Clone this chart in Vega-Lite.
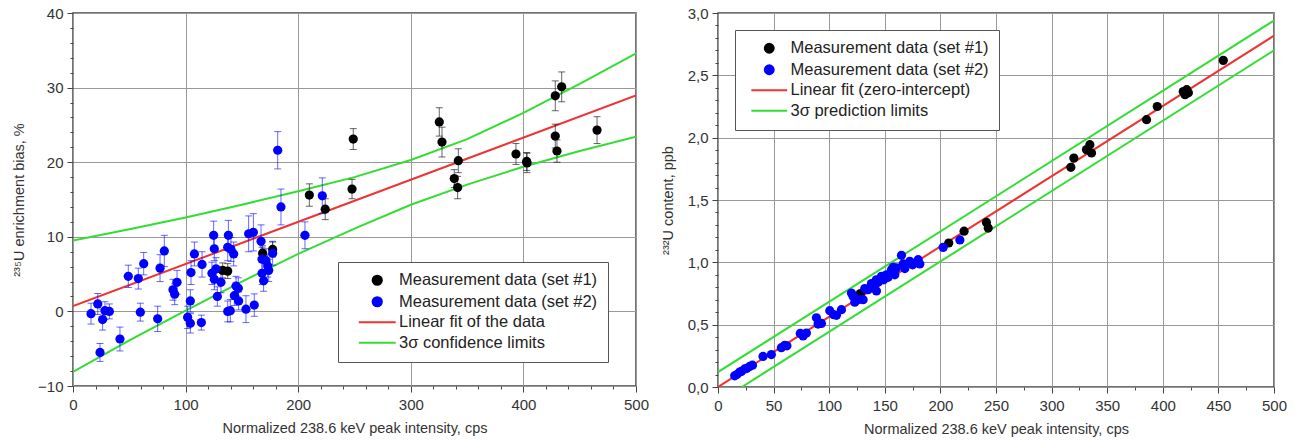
{
  "$schema": "https://vega.github.io/schema/vega-lite/v6.json",
  "padding": {"left": 10, "top": 5, "right": 5, "bottom": 5},
  "background": "white",
  "config": {
    "font": "Liberation Sans",
    "view": {"stroke": "#444", "strokeWidth": 1.5},
    "axis": {"domain": false, "labelFontSize": 15, "labelColor": "#333", "titleFontSize": 14.5, "titleFontWeight": "normal", "titleColor": "#333", "gridColor": "#999", "gridWidth": 1, "tickColor": "#444", "labelOverlap": false, "labelFlush": false}
  },
  "datasets": {
    "leftPts": [
      {"x": 132.9, "y": 5.5, "e": 1.0, "series": "Measurement data (set #1)"},
      {"x": 137.4, "y": 5.4, "e": 1.0, "series": "Measurement data (set #1)"},
      {"x": 168.4, "y": 7.8, "e": 1.0, "series": "Measurement data (set #1)"},
      {"x": 177.3, "y": 8.3, "e": 1.0, "series": "Measurement data (set #1)"},
      {"x": 209.9, "y": 15.6, "e": 1.5, "series": "Measurement data (set #1)"},
      {"x": 224.0, "y": 13.7, "e": 1.4, "series": "Measurement data (set #1)"},
      {"x": 247.8, "y": 16.4, "e": 1.3, "series": "Measurement data (set #1)"},
      {"x": 248.9, "y": 23.1, "e": 1.4, "series": "Measurement data (set #1)"},
      {"x": 325.3, "y": 25.4, "e": 1.9, "series": "Measurement data (set #1)"},
      {"x": 327.7, "y": 22.7, "e": 2.0, "series": "Measurement data (set #1)"},
      {"x": 342.2, "y": 20.2, "e": 1.6, "series": "Measurement data (set #1)"},
      {"x": 338.6, "y": 17.8, "e": 1.2, "series": "Measurement data (set #1)"},
      {"x": 341.6, "y": 16.6, "e": 1.5, "series": "Measurement data (set #1)"},
      {"x": 393.4, "y": 21.1, "e": 1.4, "series": "Measurement data (set #1)"},
      {"x": 402.9, "y": 20.1, "e": 1.2, "series": "Measurement data (set #1)"},
      {"x": 403.2, "y": 19.9, "e": 1.3, "series": "Measurement data (set #1)"},
      {"x": 428.3, "y": 28.9, "e": 2.0, "series": "Measurement data (set #1)"},
      {"x": 434.0, "y": 30.1, "e": 2.0, "series": "Measurement data (set #1)"},
      {"x": 428.3, "y": 23.5, "e": 1.6, "series": "Measurement data (set #1)"},
      {"x": 429.8, "y": 21.5, "e": 1.5, "series": "Measurement data (set #1)"},
      {"x": 465.4, "y": 24.3, "e": 1.8, "series": "Measurement data (set #1)"},
      {"x": 16.0, "y": -0.3, "e": 1.4, "series": "Measurement data (set #2)"},
      {"x": 22.0, "y": 1.0, "e": 1.4, "series": "Measurement data (set #2)"},
      {"x": 24.0, "y": -5.5, "e": 1.2, "series": "Measurement data (set #2)"},
      {"x": 26.3, "y": -1.1, "e": 1.4, "series": "Measurement data (set #2)"},
      {"x": 28.4, "y": 0.1, "e": 1.2, "series": "Measurement data (set #2)"},
      {"x": 32.3, "y": 0.0, "e": 1.0, "series": "Measurement data (set #2)"},
      {"x": 41.7, "y": -3.7, "e": 1.6, "series": "Measurement data (set #2)"},
      {"x": 49.1, "y": 4.7, "e": 1.5, "series": "Measurement data (set #2)"},
      {"x": 58.0, "y": 4.4, "e": 1.4, "series": "Measurement data (set #2)"},
      {"x": 59.8, "y": -0.1, "e": 1.2, "series": "Measurement data (set #2)"},
      {"x": 62.8, "y": 6.4, "e": 1.5, "series": "Measurement data (set #2)"},
      {"x": 75.2, "y": -1.0, "e": 1.7, "series": "Measurement data (set #2)"},
      {"x": 77.3, "y": 5.8, "e": 1.8, "series": "Measurement data (set #2)"},
      {"x": 81.1, "y": 8.1, "e": 2.1, "series": "Measurement data (set #2)"},
      {"x": 88.8, "y": 2.9, "e": 1.4, "series": "Measurement data (set #2)"},
      {"x": 90.3, "y": 2.3, "e": 1.4, "series": "Measurement data (set #2)"},
      {"x": 92.4, "y": 3.9, "e": 1.6, "series": "Measurement data (set #2)"},
      {"x": 101.8, "y": -0.8, "e": 1.5, "series": "Measurement data (set #2)"},
      {"x": 104.2, "y": -1.6, "e": 1.3, "series": "Measurement data (set #2)"},
      {"x": 104.2, "y": 1.4, "e": 1.5, "series": "Measurement data (set #2)"},
      {"x": 104.8, "y": 5.2, "e": 1.6, "series": "Measurement data (set #2)"},
      {"x": 107.8, "y": 7.7, "e": 1.6, "series": "Measurement data (set #2)"},
      {"x": 114.0, "y": -1.5, "e": 1.0, "series": "Measurement data (set #2)"},
      {"x": 114.6, "y": 6.3, "e": 1.7, "series": "Measurement data (set #2)"},
      {"x": 124.9, "y": 10.2, "e": 1.9, "series": "Measurement data (set #2)"},
      {"x": 125.5, "y": 8.4, "e": 1.6, "series": "Measurement data (set #2)"},
      {"x": 123.4, "y": 5.1, "e": 1.5, "series": "Measurement data (set #2)"},
      {"x": 125.5, "y": 4.3, "e": 1.4, "series": "Measurement data (set #2)"},
      {"x": 127.0, "y": 5.7, "e": 1.5, "series": "Measurement data (set #2)"},
      {"x": 128.2, "y": 2.0, "e": 1.3, "series": "Measurement data (set #2)"},
      {"x": 131.4, "y": 3.9, "e": 1.4, "series": "Measurement data (set #2)"},
      {"x": 138.0, "y": 10.2, "e": 2.0, "series": "Measurement data (set #2)"},
      {"x": 137.4, "y": 8.6, "e": 1.8, "series": "Measurement data (set #2)"},
      {"x": 140.3, "y": 8.3, "e": 1.6, "series": "Measurement data (set #2)"},
      {"x": 142.7, "y": 7.7, "e": 1.6, "series": "Measurement data (set #2)"},
      {"x": 137.4, "y": 0.0, "e": 1.4, "series": "Measurement data (set #2)"},
      {"x": 139.7, "y": 0.1, "e": 1.5, "series": "Measurement data (set #2)"},
      {"x": 143.3, "y": 2.1, "e": 1.3, "series": "Measurement data (set #2)"},
      {"x": 144.8, "y": 3.4, "e": 1.3, "series": "Measurement data (set #2)"},
      {"x": 146.8, "y": 3.1, "e": 1.4, "series": "Measurement data (set #2)"},
      {"x": 147.1, "y": 1.4, "e": 1.2, "series": "Measurement data (set #2)"},
      {"x": 153.6, "y": 0.3, "e": 1.8, "series": "Measurement data (set #2)"},
      {"x": 156.0, "y": 10.4, "e": 2.4, "series": "Measurement data (set #2)"},
      {"x": 160.2, "y": 10.6, "e": 2.5, "series": "Measurement data (set #2)"},
      {"x": 161.0, "y": 0.85, "e": 1.5, "series": "Measurement data (set #2)"},
      {"x": 167.0, "y": 9.4, "e": 2.2, "series": "Measurement data (set #2)"},
      {"x": 167.9, "y": 7.0, "e": 1.6, "series": "Measurement data (set #2)"},
      {"x": 167.9, "y": 5.1, "e": 1.5, "series": "Measurement data (set #2)"},
      {"x": 169.3, "y": 4.1, "e": 1.4, "series": "Measurement data (set #2)"},
      {"x": 171.4, "y": 6.8, "e": 1.6, "series": "Measurement data (set #2)"},
      {"x": 172.9, "y": 6.1, "e": 1.5, "series": "Measurement data (set #2)"},
      {"x": 173.8, "y": 5.5, "e": 1.5, "series": "Measurement data (set #2)"},
      {"x": 177.3, "y": 7.8, "e": 1.6, "series": "Measurement data (set #2)"},
      {"x": 181.8, "y": 21.6, "e": 2.5, "series": "Measurement data (set #2)"},
      {"x": 184.7, "y": 14.0, "e": 2.4, "series": "Measurement data (set #2)"},
      {"x": 206.0, "y": 10.2, "e": 1.8, "series": "Measurement data (set #2)"},
      {"x": 221.4, "y": 15.5, "e": 2.4, "series": "Measurement data (set #2)"}
    ],
    "leftLines": [
      {"x": 0, "y": 0.7, "series": "Linear fit of the data", "part": "fit"},
      {"x": 500, "y": 28.95, "series": "Linear fit of the data", "part": "fit"},
      {"x": 0, "y": 9.5, "series": "3σ confidence limits", "part": "upper"},
      {"x": 50, "y": 11.0, "series": "3σ confidence limits", "part": "upper"},
      {"x": 100, "y": 12.6, "series": "3σ confidence limits", "part": "upper"},
      {"x": 150, "y": 14.3, "series": "3σ confidence limits", "part": "upper"},
      {"x": 200, "y": 16.1, "series": "3σ confidence limits", "part": "upper"},
      {"x": 250, "y": 18.0, "series": "3σ confidence limits", "part": "upper"},
      {"x": 300, "y": 20.3, "series": "3σ confidence limits", "part": "upper"},
      {"x": 350, "y": 23.1, "series": "3σ confidence limits", "part": "upper"},
      {"x": 400, "y": 26.6, "series": "3σ confidence limits", "part": "upper"},
      {"x": 450, "y": 30.5, "series": "3σ confidence limits", "part": "upper"},
      {"x": 500, "y": 34.6, "series": "3σ confidence limits", "part": "upper"},
      {"x": 0, "y": -8.1, "series": "3σ confidence limits", "part": "lower"},
      {"x": 50, "y": -3.9, "series": "3σ confidence limits", "part": "lower"},
      {"x": 100, "y": 0.1, "series": "3σ confidence limits", "part": "lower"},
      {"x": 150, "y": 4.0, "series": "3σ confidence limits", "part": "lower"},
      {"x": 200, "y": 7.7, "series": "3σ confidence limits", "part": "lower"},
      {"x": 250, "y": 11.1, "series": "3σ confidence limits", "part": "lower"},
      {"x": 300, "y": 14.3, "series": "3σ confidence limits", "part": "lower"},
      {"x": 350, "y": 17.0, "series": "3σ confidence limits", "part": "lower"},
      {"x": 400, "y": 19.4, "series": "3σ confidence limits", "part": "lower"},
      {"x": 450, "y": 21.5, "series": "3σ confidence limits", "part": "lower"},
      {"x": 500, "y": 23.4, "series": "3σ confidence limits", "part": "lower"}
    ],
    "rightPts": [
      {"x": 128.0, "y": 0.75, "series": "Measurement data (set #1)"},
      {"x": 207.5, "y": 1.155, "series": "Measurement data (set #1)"},
      {"x": 221.3, "y": 1.25, "series": "Measurement data (set #1)"},
      {"x": 241.4, "y": 1.32, "series": "Measurement data (set #1)"},
      {"x": 243.0, "y": 1.275, "series": "Measurement data (set #1)"},
      {"x": 317.3, "y": 1.762, "series": "Measurement data (set #1)"},
      {"x": 320.0, "y": 1.837, "series": "Measurement data (set #1)"},
      {"x": 331.4, "y": 1.904, "series": "Measurement data (set #1)"},
      {"x": 334.4, "y": 1.944, "series": "Measurement data (set #1)"},
      {"x": 335.9, "y": 1.877, "series": "Measurement data (set #1)"},
      {"x": 385.4, "y": 2.144, "series": "Measurement data (set #1)"},
      {"x": 395.0, "y": 2.25, "series": "Measurement data (set #1)"},
      {"x": 418.4, "y": 2.37, "series": "Measurement data (set #1)"},
      {"x": 420.0, "y": 2.345, "series": "Measurement data (set #1)"},
      {"x": 421.5, "y": 2.385, "series": "Measurement data (set #1)"},
      {"x": 423.0, "y": 2.36, "series": "Measurement data (set #1)"},
      {"x": 454.4, "y": 2.62, "series": "Measurement data (set #1)"},
      {"x": 15.0, "y": 0.09, "series": "Measurement data (set #2)"},
      {"x": 17.0, "y": 0.10, "series": "Measurement data (set #2)"},
      {"x": 19.5, "y": 0.12, "series": "Measurement data (set #2)"},
      {"x": 21.0, "y": 0.125, "series": "Measurement data (set #2)"},
      {"x": 24.0, "y": 0.145, "series": "Measurement data (set #2)"},
      {"x": 26.0, "y": 0.15, "series": "Measurement data (set #2)"},
      {"x": 28.5, "y": 0.165, "series": "Measurement data (set #2)"},
      {"x": 31.0, "y": 0.175, "series": "Measurement data (set #2)"},
      {"x": 40.5, "y": 0.245, "series": "Measurement data (set #2)"},
      {"x": 48.0, "y": 0.26, "series": "Measurement data (set #2)"},
      {"x": 57.0, "y": 0.315, "series": "Measurement data (set #2)"},
      {"x": 60.0, "y": 0.335, "series": "Measurement data (set #2)"},
      {"x": 62.0, "y": 0.33, "series": "Measurement data (set #2)"},
      {"x": 74.0, "y": 0.43, "series": "Measurement data (set #2)"},
      {"x": 76.5, "y": 0.41, "series": "Measurement data (set #2)"},
      {"x": 79.5, "y": 0.433, "series": "Measurement data (set #2)"},
      {"x": 88.5, "y": 0.555, "series": "Measurement data (set #2)"},
      {"x": 90.0, "y": 0.505, "series": "Measurement data (set #2)"},
      {"x": 93.0, "y": 0.51, "series": "Measurement data (set #2)"},
      {"x": 100.5, "y": 0.612, "series": "Measurement data (set #2)"},
      {"x": 104.0, "y": 0.58, "series": "Measurement data (set #2)"},
      {"x": 106.5, "y": 0.575, "series": "Measurement data (set #2)"},
      {"x": 111.0, "y": 0.62, "series": "Measurement data (set #2)"},
      {"x": 120.0, "y": 0.754, "series": "Measurement data (set #2)"},
      {"x": 121.5, "y": 0.727, "series": "Measurement data (set #2)"},
      {"x": 123.0, "y": 0.68, "series": "Measurement data (set #2)"},
      {"x": 126.0, "y": 0.70, "series": "Measurement data (set #2)"},
      {"x": 130.5, "y": 0.70, "series": "Measurement data (set #2)"},
      {"x": 132.0, "y": 0.79, "series": "Measurement data (set #2)"},
      {"x": 135.0, "y": 0.78, "series": "Measurement data (set #2)"},
      {"x": 138.0, "y": 0.83, "series": "Measurement data (set #2)"},
      {"x": 139.5, "y": 0.81, "series": "Measurement data (set #2)"},
      {"x": 142.4, "y": 0.86, "series": "Measurement data (set #2)"},
      {"x": 142.5, "y": 0.77, "series": "Measurement data (set #2)"},
      {"x": 144.0, "y": 0.84, "series": "Measurement data (set #2)"},
      {"x": 147.0, "y": 0.888, "series": "Measurement data (set #2)"},
      {"x": 149.0, "y": 0.86, "series": "Measurement data (set #2)"},
      {"x": 151.5, "y": 0.90, "series": "Measurement data (set #2)"},
      {"x": 153.0, "y": 0.88, "series": "Measurement data (set #2)"},
      {"x": 156.0, "y": 0.94, "series": "Measurement data (set #2)"},
      {"x": 157.5, "y": 0.96, "series": "Measurement data (set #2)"},
      {"x": 159.0, "y": 0.90, "series": "Measurement data (set #2)"},
      {"x": 160.5, "y": 0.955, "series": "Measurement data (set #2)"},
      {"x": 165.0, "y": 1.056, "series": "Measurement data (set #2)"},
      {"x": 166.5, "y": 0.987, "series": "Measurement data (set #2)"},
      {"x": 168.0, "y": 0.95, "series": "Measurement data (set #2)"},
      {"x": 172.5, "y": 1.008, "series": "Measurement data (set #2)"},
      {"x": 175.0, "y": 0.98, "series": "Measurement data (set #2)"},
      {"x": 180.0, "y": 1.021, "series": "Measurement data (set #2)"},
      {"x": 181.5, "y": 0.987, "series": "Measurement data (set #2)"},
      {"x": 202.5, "y": 1.12, "series": "Measurement data (set #2)"},
      {"x": 217.5, "y": 1.18, "series": "Measurement data (set #2)"}
    ],
    "rightLines": [
      {"x": 0, "y": 0, "series": "Linear fit (zero-intercept)", "part": "fit"},
      {"x": 500, "y": 2.818, "series": "Linear fit (zero-intercept)", "part": "fit"},
      {"x": 0, "y": 0.12, "series": "3σ prediction limits", "part": "upper"},
      {"x": 500, "y": 2.94, "series": "3σ prediction limits", "part": "upper"},
      {"x": 21.5, "y": 0, "series": "3σ prediction limits", "part": "lower"},
      {"x": 500, "y": 2.70, "series": "3σ prediction limits", "part": "lower"}
    ]
  },
  "resolve": {"scale": {"color": "independent", "shape": "independent"}},
  "spacing": 9,
  "hconcat": [
    {
      "width": 563,
      "height": 373,
      "encoding": {
        "x": {"field": "x", "type": "quantitative", "scale": {"domain": [0, 500], "nice": false},
          "axis": {"title": "Normalized 238.6 keV peak intensity, cps", "values": [0,20,40,60,80,100,120,140,160,180,200,220,240,260,280,300,320,340,360,380,400,420,440,460,480,500],
            "labelExpr": "datum.value % 100 === 0 ? datum.label : ''",
            "gridOpacity": {"condition": {"test": "datum.value % 100 === 0", "value": 1}, "value": 0},
            "tickSize": {"condition": {"test": "datum.value % 100 === 0", "value": 6}, "value": 3},
            "labelPadding": 5, "titlePadding": 9}},
        "y": {"field": "y", "type": "quantitative", "scale": {"domain": [-10, 40], "nice": false},
          "axis": {"title": "²³⁵U enrichment bias, %", "values": [-10,-8,-6,-4,-2,0,2,4,6,8,10,12,14,16,18,20,22,24,26,28,30,32,34,36,38,40],
            "labelExpr": "datum.value % 10 === 0 ? datum.label : ''",
            "gridOpacity": {"condition": {"test": "datum.value % 10 === 0", "value": 1}, "value": 0},
            "tickSize": {"condition": {"test": "datum.value % 10 === 0", "value": 6}, "value": 3},
            "labelPadding": 4, "titlePadding": 11}}
      },
      "layer": [
        {
          "data": {"name": "leftLines"},
          "mark": {"type": "line", "strokeWidth": 2, "clip": true},
          "encoding": {
            "color": {"field": "series", "type": "nominal", "scale": {"domain": ["Measurement data (set #1)", "Measurement data (set #2)", "Linear fit of the data", "3σ confidence limits"], "range": ["#000000", "#0000ff", "#ee3333", "#33dd33"]}},
            "detail": {"field": "part"}
          }
        },
        {
          "data": {"name": "leftPts"},
          "mark": {"type": "errorbar", "ticks": {"size": 7}, "thickness": 1, "opacity": 0.6},
          "encoding": {
            "yError": {"field": "e"},
            "color": {"field": "series", "type": "nominal", "scale": {"domain": ["Measurement data (set #1)", "Measurement data (set #2)", "Linear fit of the data", "3σ confidence limits"], "range": ["#000000", "#0000ff", "#ee3333", "#33dd33"]}}
          }
        },
        {
          "data": {"name": "leftPts"},
          "mark": {"type": "point", "filled": true, "opacity": 1, "size": 85},
          "encoding": {
            "color": {"field": "series", "type": "nominal", "scale": {"domain": ["Measurement data (set #1)", "Measurement data (set #2)", "Linear fit of the data", "3σ confidence limits"], "range": ["#000000", "#0000ff", "#ee3333", "#33dd33"]},
              "legend": {"title": null, "orient": "none", "legendX": 265, "legendY": 249, "fillColor": "white", "strokeColor": "#555", "padding": 10, "labelFontSize": 16.5, "labelColor": "#222", "labelLimit": 400, "rowPadding": 3.5, "symbolOffset": 21, "labelOffset": 13.5, "symbolSize": 85, "symbolOpacity": 1, "symbolStrokeWidth": 2,
                "encode": {"symbols": {"update": {"stroke": {"signal": "datum.value === 'Linear fit of the data' ? '#ee3333' : datum.value === '3σ confidence limits' ? '#33dd33' : 'transparent'"}}}}}},
            "shape": {"field": "series", "type": "nominal", "scale": {"domain": ["Measurement data (set #1)", "Measurement data (set #2)", "Linear fit of the data", "3σ confidence limits"], "range": ["circle", "circle", "M-4,0L4,0", "M-4,0L4,0"]}}
          }
        }
      ]
    },
    {
      "width": 556,
      "height": 374,
      "encoding": {
        "x": {"field": "x", "type": "quantitative", "scale": {"domain": [0, 500], "nice": false},
          "axis": {"title": "Normalized 238.6 keV peak intensity, cps", "values": [0,25,50,75,100,125,150,175,200,225,250,275,300,325,350,375,400,425,450,475,500],
            "labelExpr": "datum.value % 50 === 0 ? datum.label : ''",
            "gridOpacity": {"condition": {"test": "datum.value % 50 === 0", "value": 1}, "value": 0},
            "tickSize": {"condition": {"test": "datum.value % 50 === 0", "value": 6}, "value": 3},
            "labelPadding": 5, "titlePadding": 9}},
        "y": {"field": "y", "type": "quantitative", "scale": {"domain": [0, 3], "nice": false},
          "axis": {"title": "²³²U content, ppb", "values": [0,0.1,0.2,0.3,0.4,0.5,0.6,0.7,0.8,0.9,1.0,1.1,1.2,1.3,1.4,1.5,1.6,1.7,1.8,1.9,2.0,2.1,2.2,2.3,2.4,2.5,2.6,2.7,2.8,2.9,3.0],
            "labelExpr": "round(datum.value * 10) % 5 === 0 ? replace(format(datum.value, '.1f'), '.', ',') : ''",
            "gridOpacity": {"condition": {"test": "round(datum.value * 10) % 5 === 0", "value": 1}, "value": 0},
            "tickSize": {"condition": {"test": "round(datum.value * 10) % 5 === 0", "value": 6}, "value": 3},
            "labelPadding": 4, "titlePadding": 12}}
      },
      "layer": [
        {
          "data": {"name": "rightLines"},
          "mark": {"type": "line", "strokeWidth": 2, "clip": true},
          "encoding": {
            "color": {"field": "series", "type": "nominal", "scale": {"domain": ["Measurement data (set #1)", "Measurement data (set #2)", "Linear fit (zero-intercept)", "3σ prediction limits"], "range": ["#000000", "#0000ff", "#ee3333", "#33dd33"]}},
            "detail": {"field": "part"}
          }
        },
        {
          "data": {"name": "rightPts"},
          "mark": {"type": "point", "filled": true, "opacity": 1, "size": 85},
          "encoding": {
            "color": {"field": "series", "type": "nominal", "scale": {"domain": ["Measurement data (set #1)", "Measurement data (set #2)", "Linear fit (zero-intercept)", "3σ prediction limits"], "range": ["#000000", "#0000ff", "#ee3333", "#33dd33"]},
              "legend": {"title": null, "orient": "none", "legendX": 17, "legendY": 17, "fillColor": "white", "strokeColor": "#555", "padding": 10, "labelFontSize": 16.5, "labelColor": "#222", "labelLimit": 400, "rowPadding": 3.5, "symbolOffset": 16, "labelOffset": 13, "symbolSize": 80, "symbolOpacity": 1, "symbolStrokeWidth": 2,
                "encode": {"symbols": {"update": {"stroke": {"signal": "datum.value === 'Linear fit (zero-intercept)' ? '#ee3333' : datum.value === '3σ prediction limits' ? '#33dd33' : 'transparent'"}}}}}},
            "shape": {"field": "series", "type": "nominal", "scale": {"domain": ["Measurement data (set #1)", "Measurement data (set #2)", "Linear fit (zero-intercept)", "3σ prediction limits"], "range": ["circle", "circle", "M-4,0L4,0", "M-4,0L4,0"]}}
          }
        }
      ]
    }
  ]
}
